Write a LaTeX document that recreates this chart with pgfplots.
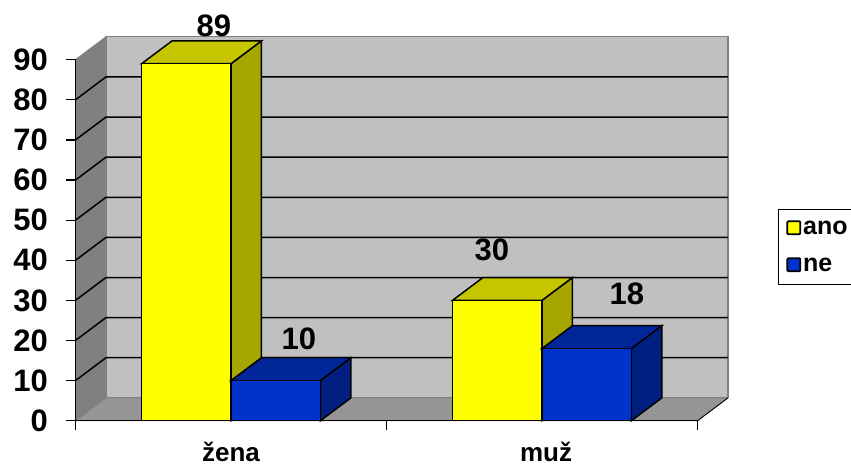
\documentclass[border=0pt]{standalone}
\usepackage{pgfplots}
\pgfplotsset{compat=1.18}
\usepackage{fontspec}
\setmainfont{Liberation Sans}
\definecolor{wall}{HTML}{C0C0C0}
\definecolor{sidewall}{HTML}{808080}
\definecolor{floorc}{HTML}{969696}
\definecolor{yfront}{HTML}{FFFF00}
\definecolor{ytop}{HTML}{C6C600}
\definecolor{yside}{HTML}{A6A600}
\definecolor{bfront}{HTML}{0033CC}
\definecolor{btop}{HTML}{002699}
\definecolor{bside}{HTML}{001F80}
\newcommand{\bigbold}{\fontsize{31}{31}\bfseries\selectfont}
\begin{document}
\begin{tikzpicture}[x=1pt,y=1pt]
\path[use as bounding box] (0,0) rectangle (851,466);
\begin{axis}[
  scale only axis,
  width=622pt, height=361pt,
  at={(75.5pt,45.3pt)}, anchor=south west,
  xmin=0, xmax=2, ymin=0, ymax=90,
  clip=false,
  axis on top,
  axis x line=bottom, axis y line=left,
  axis line style={-, black, line width=1.5pt},
  xtick={0,1,2}, xticklabels={žena,\hspace{8pt}muž},
  x tick label as interval,
  x tick style={black, line width=1pt},
  ytick={0,10,...,90},
  y tick style={black, line width=1.2pt},
  tick align=outside, major tick length=9pt,
  /pgf/number format/assume math mode=true,
  y tick label style={font=\bigbold, xshift=-15pt},
  x tick label style={font=\fontsize{26}{26}\bfseries\selectfont, yshift=-12pt, inner sep=0pt},
  legend style={at={(axis cs:2.2588,52.8)}, anchor=north west, draw=black, line width=0.8pt,
    font=\fontsize{25}{25}\bfseries\selectfont, inner xsep=8pt, inner ysep=9.5pt,
    row sep=18pt, legend cell align=left, /tikz/every even column/.style={column sep=5pt}},
  legend image code/.code={\draw[#1, line width=1.8pt, rounded corners=1pt] (0pt,-6pt) rectangle (13pt,7pt);},
]
% stena a podlaha
\addplot[forget plot, fill=wall, draw=sidewall, line width=1.3pt] coordinates {(0.098,5.7) (2.098,5.7) (2.098,95.7) (0.098,95.7)} -- cycle;
\addplot[forget plot, fill=sidewall, draw=sidewall, line width=1pt] coordinates {(0,0) (0.098,5.7) (0.098,95.7) (0,90)} -- cycle;
\addplot[forget plot, fill=floorc, draw=sidewall, line width=1pt] coordinates {(0,0) (2,0) (2.098,5.7) (0.098,5.7)} -- cycle;
\addplot[forget plot, black, line width=0.8pt] coordinates {(2,0) (2.098,5.7)};
% mrizka
\addplot[forget plot, black, line width=1.5pt] coordinates {(0,10) (0.098,15.7) (2.098,15.7)};
\addplot[forget plot, black, line width=1.5pt] coordinates {(0,20) (0.098,25.7) (2.098,25.7)};
\addplot[forget plot, black, line width=1.5pt] coordinates {(0,30) (0.098,35.7) (2.098,35.7)};
\addplot[forget plot, black, line width=1.5pt] coordinates {(0,40) (0.098,45.7) (2.098,45.7)};
\addplot[forget plot, black, line width=1.5pt] coordinates {(0,50) (0.098,55.7) (2.098,55.7)};
\addplot[forget plot, black, line width=1.5pt] coordinates {(0,60) (0.098,65.7) (2.098,65.7)};
\addplot[forget plot, black, line width=1.5pt] coordinates {(0,70) (0.098,75.7) (2.098,75.7)};
\addplot[forget plot, black, line width=1.5pt] coordinates {(0,80) (0.098,85.7) (2.098,85.7)};
% zena ano 89
\addplot[forget plot, fill=yside, draw=black, line width=1.5pt] coordinates {(0.5,0) (0.598,5.7) (0.598,94.7) (0.5,89)} -- cycle;
\addplot[forget plot, fill=ytop, draw=black, line width=1.5pt] coordinates {(0.2125,89) (0.5,89) (0.598,94.7) (0.3105,94.7)} -- cycle;
\addplot[forget plot, fill=yfront, draw=black, line width=1.5pt] coordinates {(0.2125,0) (0.5,0) (0.5,89) (0.2125,89)} -- cycle;
% zena ne 10
\addplot[forget plot, fill=bside, draw=black, line width=1.5pt] coordinates {(0.7875,0) (0.8855,5.7) (0.8855,15.7) (0.7875,10)} -- cycle;
\addplot[forget plot, fill=btop, draw=black, line width=1.5pt] coordinates {(0.5,10) (0.7875,10) (0.8855,15.7) (0.598,15.7)} -- cycle;
\addplot[forget plot, fill=bfront, draw=black, line width=1.5pt] coordinates {(0.5,0) (0.7875,0) (0.7875,10) (0.5,10)} -- cycle;
% muz ano 30
\addplot[forget plot, fill=yside, draw=black, line width=1.5pt] coordinates {(1.5,0) (1.598,5.7) (1.598,35.7) (1.5,30)} -- cycle;
\addplot[forget plot, fill=ytop, draw=black, line width=1.5pt] coordinates {(1.2125,30) (1.5,30) (1.598,35.7) (1.3105,35.7)} -- cycle;
\addplot[forget plot, fill=yfront, draw=black, line width=1.5pt] coordinates {(1.2125,0) (1.5,0) (1.5,30) (1.2125,30)} -- cycle;
% muz ne 18
\addplot[forget plot, fill=bside, draw=black, line width=1.5pt] coordinates {(1.7875,0) (1.8855,5.7) (1.8855,23.7) (1.7875,18)} -- cycle;
\addplot[forget plot, fill=btop, draw=black, line width=1.5pt] coordinates {(1.5,18) (1.7875,18) (1.8855,23.7) (1.598,23.7)} -- cycle;
\addplot[forget plot, fill=bfront, draw=black, line width=1.5pt] coordinates {(1.5,0) (1.7875,0) (1.7875,18) (1.5,18)} -- cycle;
% popisky
\node[font=\bigbold] at (axis cs:0.4453,98.4) {89};
\node[font=\bigbold] at (axis cs:0.7185,20.4) {10};
\node[font=\bigbold] at (axis cs:1.339,42.6) {30};
\node[font=\bigbold] at (axis cs:1.773,31.6) {18};
\addlegendimage{fill=yfront, draw=black}
\addlegendentry{ano}
\addlegendimage{fill=bfront, draw=black}
\addlegendentry{ne}
\end{axis}
\end{tikzpicture}
\end{document}
